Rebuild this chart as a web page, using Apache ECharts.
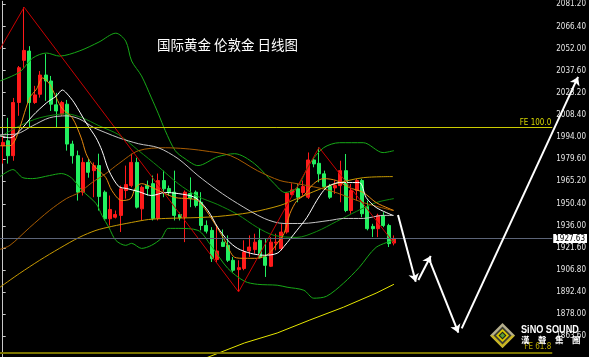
<!DOCTYPE html>
<html><head><meta charset="utf-8">
<script src="https://cdn.jsdelivr.net/npm/echarts@6/dist/echarts.min.js"></script>
<style>html,body{margin:0;padding:0;background:#000;}#c{width:589px;height:357px;}</style>
</head><body><div id="c"></div>
<script>
// ---- data ----
const slotCount = 103;
const categories = Array.from({length: slotCount}, (_, i) => 'D' + (i + 1));
// [open, close, low, high]
const candles = [
[1988.4,1990.6,1976.7,1994.9],[1991.7,1981.9,1976.7,2006.7],[1981.9,2016.7,1978.6,2019.7],[2016.7,2039.5,2008.0,2040.6],
[2044.3,2050.8,2039.5,2079.1],[2050.4,2016.7,2000.4,2053.6],[2016.7,2021.7,2015.8,2027.6],[2022.1,2034.7,2019.9,2037.3],
[2034.7,2030.8,2017.8,2048.4],[2030.8,2015.6,2011.2,2034.1],[2015.2,2011.2,2000.4,2023.0],[2009.1,2016.7,2008.0,2017.8],
[2015.6,1989.5,1985.2,2018.4],[1989.5,1981.9,1976.7,1991.7],[1981.9,1958.0,1952.5,1985.2],[1958.0,1977.5,1955.8,1980.6],
[1977.5,1971.0,1967.5,1979.9],[1972.1,1975.4,1954.7,1977.5],[1975.4,1955.2,1946.0,1983.2],[1958.0,1940.6,1939.5,1959.1],
[1940.6,1946.7,1936.2,1955.8],[1941.6,1943.4,1940.8,1946.0],[1942.8,1960.2,1931.9,1962.3],[1959.1,1963.0,1953.8,1975.4],
[1962.3,1977.5,1961.2,1983.2],[1977.5,1948.2,1947.3,1980.6],[1947.1,1961.2,1939.5,1962.3],[1962.3,1960.4,1955.8,1965.6],
[1963.6,1940.8,1939.5,1968.9],[1940.8,1965.6,1939.5,1970.2],[1965.6,1960.2,1954.7,1972.1],[1960.4,1957.8,1955.8,1962.3],
[1958.0,1942.8,1939.5,1972.1],[1943.4,1941.3,1939.5,1944.7],[1941.6,1958.0,1925.3,1959.1],[1957.1,1953.8,1948.2,1967.7],
[1958.0,1949.3,1948.0,1959.1],[1951.4,1936.2,1933.0,1958.0],[1936.2,1932.5,1931.0,1939.5],[1933.0,1914.5,1912.3,1935.1],
[1913.9,1919.5,1912.3,1936.2],[1925.3,1922.5,1922.1,1933.6],[1923.2,1913.4,1912.3,1929.7],[1913.4,1906.9,1905.8,1915.6],
[1907.3,1908.6,1892.7,1913.4],[1908.0,1918.8,1906.9,1926.5],[1919.5,1922.1,1915.6,1929.7],[1920.4,1925.3,1917.8,1930.8],
[1926.5,1915.2,1914.7,1934.3],[1915.6,1910.1,1902.5,1927.8],[1909.5,1925.3,1909.0,1928.6],[1924.7,1925.3,1919.9,1930.8],
[1921.0,1931.9,1919.9,1937.3],[1931.9,1957.3,1930.8,1958.0],[1956.5,1959.5,1955.8,1963.8],[1960.2,1954.7,1951.4,1963.4],
[1957.8,1961.7,1955.8,1965.6],[1954.7,1979.1,1953.6,1984.0],[1979.1,1976.5,1974.3,1980.8],[1976.9,1970.0,1964.5,1987.3],
[1970.0,1961.7,1960.2,1972.1],[1961.7,1954.7,1953.6,1963.4],[1960.8,1962.3,1956.9,1965.6],[1962.3,1972.1,1951.4,1978.6],
[1972.1,1946.0,1944.9,1983.0],[1946.0,1959.1,1943.9,1963.4],[1959.1,1965.6,1952.5,1966.7],[1965.6,1943.9,1941.6,1966.7],
[1948.6,1934.1,1933.0,1952.5],[1935.6,1934.1,1928.6,1937.3],[1934.1,1942.8,1928.6,1943.9],[1942.8,1936.2,1935.1,1944.9],
[1936.2,1924.3,1922.1,1937.3],[1924.7,1927.6,1923.2,1929.7]
];
// indicator lines: [slot, value]
const bollUpper = [[-0.5,2030.8],[3.19,2036.7],[5.59,2045.8],[8.18,2049.1],[10.58,2047.1],[14.27,2050.4],[17.96,2056.3],[21.10,2062.1],[22.95,2056.9],[24.05,2043.9],[25.90,2034.1],[27.75,2019.7],[29.04,2009.3],[30.33,1998.2],[32.18,1985.2],[34.02,1979.9],[36.42,1975.4],[40.12,1981.2],[43.26,1983.2],[46.95,1976.7],[50.64,1963.6],[52.67,1957.8],[54.88,1961.0],[57.28,1976.7],[59.86,1987.1],[62.82,1990.4],[67.25,1990.4],[70.94,1983.9],[72.97,1985.2]];
const bollMid = [[-0.5,1994.3],[3.19,2001.5],[6.89,2006.7],[11.87,2009.3],[14.82,2006.7],[17.96,2001.5],[21.65,1995.6],[25.35,1985.2],[29.04,1974.7],[32.73,1963.6],[36.42,1955.2],[40.12,1949.9],[43.81,1943.4],[47.50,1934.9],[50.64,1929.7],[54.88,1928.4],[58.57,1932.3],[62.26,1938.8],[65.96,1945.4],[69.65,1951.2],[72.97,1953.8]];
const bollLower = [[-0.5,1968.2],[1.90,1972.8],[3.75,1967.5],[5.59,1966.9],[8.73,1968.9],[10.95,1970.2],[12.79,1967.5],[14.82,1959.1],[17.41,1950.6],[18.52,1942.8],[19.81,1934.9],[21.10,1926.5],[22.95,1923.2],[24.05,1924.5],[25.90,1921.2],[27.75,1923.2],[29.59,1927.8],[30.88,1934.3],[32.73,1934.3],[36.42,1933.0],[38.83,1923.2],[41.97,1908.2],[45.10,1899.7],[47.50,1897.7],[51.19,1897.1],[53.04,1895.8],[56.17,1893.8],[58.02,1888.6],[60.42,1889.9],[63.56,1898.4],[66.51,1908.8],[69.65,1921.9],[72.97,1926.5]];
const maWhite = [[-0.5,1994.9],[1.35,1993.6],[3.19,1998.2],[5.59,2008.0],[8.18,2016.5],[10.02,2021.0],[11.13,2024.9],[11.87,2023.0],[13.35,2016.5],[15.56,2003.4],[17.41,1993.6],[18.52,1985.2],[19.81,1972.1],[21.65,1961.7],[23.13,1960.4],[25.35,1958.4],[27.75,1955.8],[30.33,1957.8],[32.73,1957.1],[35.87,1954.5],[38.27,1946.0],[40.12,1934.9],[41.97,1926.5],[43.81,1921.2],[46.21,1918.0],[48.79,1916.7],[51.19,1918.0],[52.48,1922.5],[54.88,1933.0],[56.73,1941.4],[58.57,1952.5],[59.86,1959.1],[60.97,1962.3],[62.82,1964.3],[66.51,1964.3],[67.80,1954.5],[69.65,1948.0],[72.79,1942.8]];
const maGray = [[-0.5,1995.6],[2.64,1996.2],[5.59,2001.5],[8.73,2006.7],[11.87,2008.0],[14.27,2006.0],[17.04,2000.2],[19.25,1996.9],[21.65,1993.6],[25.35,1989.7],[29.04,1987.1],[32.73,1979.9],[36.42,1968.9],[40.12,1959.1],[43.81,1950.6],[48.79,1940.8],[52.48,1937.5],[55.80,1937.5],[60.97,1939.5],[63.56,1940.8],[67.25,1940.8],[70.94,1942.8],[72.97,1942.8]];
const maOrange = [[-0.5,1988.4],[1.35,1988.4],[2.27,1991.7],[3.19,2000.2],[5.04,2019.7],[6.33,2025.6],[7.44,2032.8],[8.73,2028.9],[10.02,2019.7],[11.13,2012.6],[12.98,2006.7],[14.64,1993.6],[15.56,1983.2],[16.48,1977.3],[17.96,1972.1],[19.25,1967.5],[20.36,1959.1],[22.21,1952.5],[23.87,1953.8],[24.79,1961.0],[25.90,1963.6],[27.19,1962.3],[29.04,1959.1],[32.18,1954.5],[34.58,1953.8],[36.42,1952.5],[38.83,1941.4],[41.41,1926.5],[43.26,1915.4],[45.10,1914.7],[47.50,1914.7],[49.72,1918.0],[51.19,1924.5],[52.48,1931.0],[53.59,1944.1],[54.88,1952.5],[56.17,1955.8],[58.02,1963.6],[59.86,1966.9],[62.26,1965.6],[64.67,1961.0],[67.25,1957.8],[69.65,1951.2],[72.05,1947.3],[72.97,1946.0]];
const maBrown = [[-0.5,1920.6],[1.35,1923.2],[5.04,1934.9],[8.73,1946.0],[11.87,1953.8],[14.27,1957.8],[16.67,1964.3],[19.25,1970.2],[21.65,1976.7],[25.35,1985.2],[30.33,1987.1],[34.02,1986.5],[37.35,1985.2],[42.51,1981.9],[47.50,1972.1],[51.74,1965.6],[54.88,1963.6],[60.97,1959.1],[67.25,1951.2],[72.79,1946.0]];
const maGold = [[-0.5,1895.8],[3.19,1904.9],[6.89,1913.4],[10.58,1921.2],[14.27,1928.4],[17.41,1933.0],[20.36,1935.6],[24.05,1938.2],[27.19,1940.1],[30.33,1940.8],[36.42,1941.4],[40.12,1942.1],[46.21,1944.7],[51.74,1949.3],[54.88,1953.8],[60.97,1962.3],[67.25,1967.5],[72.79,1968.2]];
const maYellow = [[37.72,1849.2],[45.10,1859.3],[51.19,1865.8],[57.28,1874.3],[63.56,1882.7],[69.65,1891.9],[72.97,1897.7]];
const zigzag = [[-0.5,2051.7],[4,2079.1],[44,1892.7],[59,1987.3],[73,1924.5]];
const arrowPaths = [
  [[72.97,1942.8],[76.24,1899.2]],
  [[76.72,1900.3],[79.01,1916.0]],
  [[79.01,1911.2],[84.11,1866.0]],
  [[84.73,1868.8],[106.2,2032.8]]
];
const tickLabels = ['2081.20','2066.40','2052.00','2037.60','2023.20','2008.40','1994.00','1979.60','1965.20','1950.40','1936.00','1921.60','1906.80','1892.40','1878.00','1863.60'];
const lastPrice = 1927.63;
const fe100 = 2000.3;
const fe618 = 1853.2;
const titleText = '国际黄金 伦敦金 日线图';

// ---- chart ----
const Y_MIN = 1850.1, Y_MAX = 2083.0;
const narrow = "'Liberation Sans Narrow','DejaVu Sans Condensed','Liberation Sans',sans-serif";
const tickValues = tickLabels.map(Number);
const chart = echarts.init(document.getElementById('c'), null, {renderer: 'canvas'});

function lineSeries(data, color, z, smooth) {
  return {type: 'line', xAxisIndex: 1, yAxisIndex: 0, data, symbol: 'none', showSymbol: false,
    smooth: smooth === undefined ? 0.3 : smooth, silent: true, z: z || 3,
    lineStyle: {color, width: 1}};
}
const diamond = (cx, cy, r) => [[cx, cy - r], [cx + r, cy], [cx, cy + r], [cx - r, cy]];

chart.setOption({
  backgroundColor: '#000',
  animation: false,
  grid: [
    {left: 0, right: 31, top: 0, bottom: 0, containLabel: false},
    {left: 0, right: 0, top: 0, bottom: 0, containLabel: false}
  ],
  xAxis: [
    {type: 'category', gridIndex: 0, data: categories, show: false, boundaryGap: true},
    {type: 'value', gridIndex: 0, min: -0.5, max: slotCount - 0.5, show: false},
    {type: 'value', gridIndex: 1, min: -0.5, max: -0.5 + slotCount * 589 / 558, show: false}
  ],
  yAxis: [
    {type: 'value', gridIndex: 0, position: 'right', min: Y_MIN, max: Y_MAX,
      axisLine: {show: true, lineStyle: {color: '#c8c8c8', width: 1}},
      axisTick: {show: true, length: 3, customValues: tickValues, lineStyle: {color: '#c8c8c8'}},
      axisLabel: {show: true, customValues: tickValues, margin: 4, color: '#e6e6e6', fontSize: 8,
        fontFamily: narrow, formatter: v => v.toFixed(2)},
      splitLine: {show: false}},
    {type: 'value', gridIndex: 1, min: Y_MIN, max: Y_MAX, show: false}
  ],
  series: [
    {type: 'candlestick', xAxisIndex: 0, yAxisIndex: 0, data: candles, barWidth: 3.5, z: 2, silent: true,
      itemStyle: {color: '#ff1a1a', color0: '#22f060', borderColor: '#ff1a1a', borderColor0: '#22f060', borderWidth: 1}},
    lineSeries(bollUpper, '#17a817'),
    lineSeries(bollMid, '#0f8a0f'),
    lineSeries(bollLower, '#17a817'),
    lineSeries(maGold, '#c89a00'),
    lineSeries(maBrown, '#a85c00'),
    lineSeries(maYellow, '#e6e600', 3, 0),
    lineSeries(maGray, '#c4c4c4'),
    lineSeries(maOrange, '#e88a10'),
    lineSeries(maWhite, '#ffffff'),
    Object.assign(lineSeries(zigzag, '#c80000', 4, 0), {
      markLine: {silent: true, symbol: ['none', 'none'], animation: false,
        data: [
          {yAxis: fe100, lineStyle: {color: '#cccc00', width: 1, type: 'solid'},
            label: {show: true, position: 'insideEndTop', formatter: 'FE 100.0', color: '#d8d800', fontSize: 8, fontFamily: narrow, distance: 1}},
          {yAxis: fe618, lineStyle: {color: '#7a7400', width: 2, type: 'solid'},
            label: {show: true, position: 'insideEndTop', formatter: 'FE 61.8', color: '#b8a800', fontSize: 8, fontFamily: narrow, distance: 1}},
          {yAxis: lastPrice, lineStyle: {color: '#5c6478', width: 1, type: 'solid'},
            label: {show: true, position: 'end', formatter: lastPrice.toFixed(2), color: '#000', backgroundColor: '#fff',
              padding: [1, 2, 0, 2], fontSize: 8, fontFamily: narrow, distance: 1}}
        ]}
    }),
    {type: 'lines', coordinateSystem: 'cartesian2d', xAxisIndex: 2, yAxisIndex: 1, z: 6, silent: true,
      symbol: ['none', 'arrow'], symbolSize: 8, polyline: false,
      lineStyle: {color: '#ffffff', width: 2, opacity: 1, curveness: 0},
      data: arrowPaths.map(p => ({coords: p}))}
  ],
  graphic: [
    {type: 'text', x: 157, y: 44.5, z: 10, style: {text: titleText, fill: '#ffffff', fontSize: 13.5,
      fontFamily: "'Noto Sans CJK SC', sans-serif", verticalAlign: 'middle'}},
    {type: 'polygon', z: 10, shape: {points: diamond(502.5, 335.5, 12.5)}, style: {fill: '#b4ae8c'}},
    {type: 'polygon', z: 10, shape: {points: [[502.5, 335.5], [515, 335.5], [502.5, 348], [490, 335.5]]}, style: {fill: '#c8b420'}},
    {type: 'polygon', z: 10, shape: {points: diamond(502.5, 335.5, 9)}, style: {fill: '#3c3c30'}},
    {type: 'polygon', z: 10, shape: {points: diamond(502.5, 335.5, 6.5)}, style: {fill: '#d8c800'}},
    {type: 'polygon', z: 10, shape: {points: diamond(502.5, 335.5, 4)}, style: {fill: '#1e1e1e'}},
    {type: 'polygon', z: 10, shape: {points: diamond(502.5, 335.5, 2.5)}, style: {fill: '#5aa032'}},
    {type: 'text', x: 521, y: 330, scaleX: 0.83, z: 10, style: {text: 'SiNO SOUND', fill: '#ffffff', fontSize: 11,
      fontWeight: 'bold', fontFamily: "'Liberation Sans', sans-serif", verticalAlign: 'middle'}},
    {type: 'text', x: 521, y: 340, z: 10, style: {text: '漢　聲　集　團', fill: '#ffffff', fontSize: 8.5,
      fontWeight: 'bold', fontFamily: "'Noto Sans CJK TC', sans-serif", verticalAlign: 'middle'}}
  ]
});
</script></body></html>
